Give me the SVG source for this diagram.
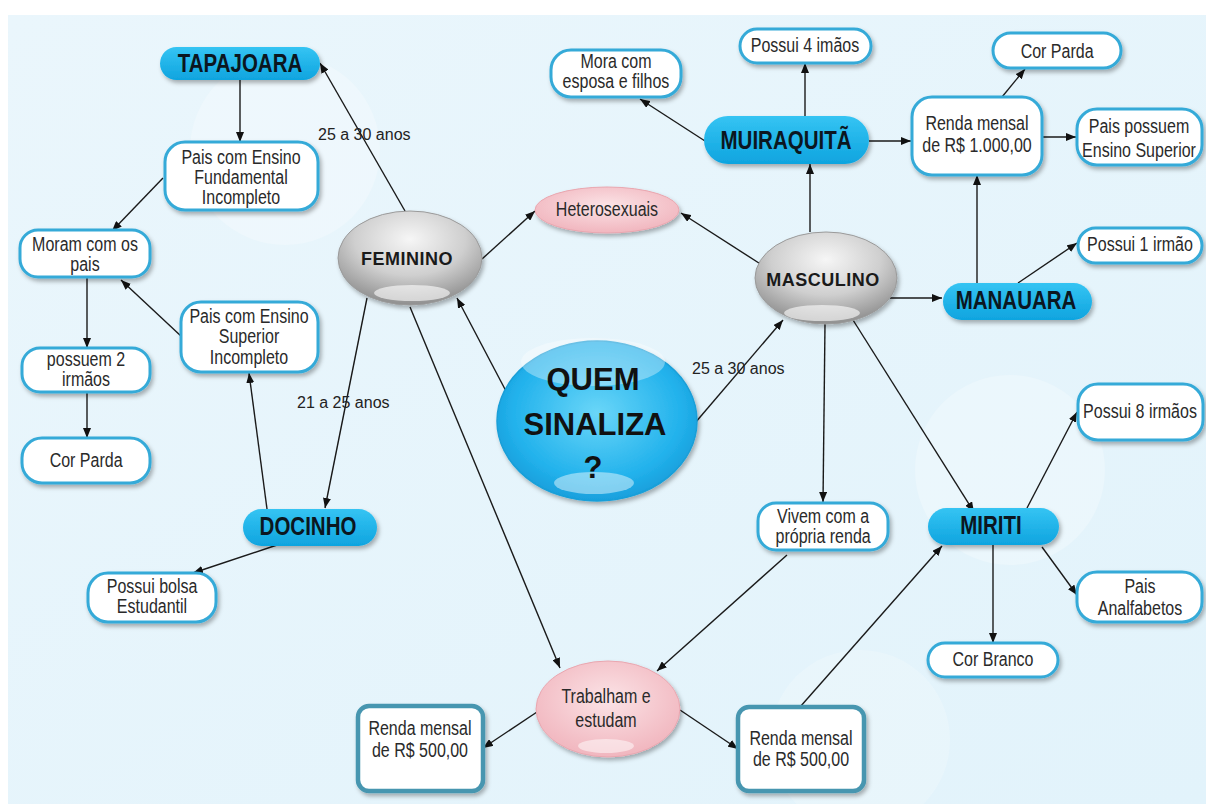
<svg xmlns="http://www.w3.org/2000/svg" width="1206" height="804" viewBox="0 0 1206 804">
<defs>
<linearGradient id="bg" x1="0" y1="0" x2="1" y2="1"><stop offset="0" stop-color="#eaf6fc"/><stop offset="1" stop-color="#e2f3fb"/></linearGradient>
<radialGradient id="grey" cx="50%" cy="30%" r="70%"><stop offset="0" stop-color="#f6f6f6"/><stop offset="0.55" stop-color="#cfcfcf"/><stop offset="1" stop-color="#8f8f8f"/></radialGradient>
<radialGradient id="pink" cx="50%" cy="40%" r="65%"><stop offset="0" stop-color="#fbe3e6"/><stop offset="1" stop-color="#f0b2bb"/></radialGradient>
<radialGradient id="quem" cx="50%" cy="45%" r="60%"><stop offset="0" stop-color="#6ad6f8"/><stop offset="0.7" stop-color="#22b2ec"/><stop offset="1" stop-color="#1598d6"/></radialGradient>
<linearGradient id="pill" x1="0" y1="0" x2="0" y2="1"><stop offset="0" stop-color="#35c4f3"/><stop offset="1" stop-color="#0fa4df"/></linearGradient>
<filter id="sh" x="-20%" y="-20%" width="140%" height="150%"><feDropShadow dx="2" dy="3" stdDeviation="2" flood-color="#000" flood-opacity="0.3"/></filter>
<marker id="ar" markerWidth="10" markerHeight="8" refX="10" refY="4" orient="auto" markerUnits="userSpaceOnUse"><path d="M0,0 L10,4 L0,8 z" fill="#111"/></marker>
<style>
.box{fill:#fff;stroke:#35aad8;stroke-width:3;filter:url(#sh)}
.sq{fill:#fff;stroke:#4796b0;stroke-width:4.5;filter:url(#sh)}
.pill{fill:url(#pill);filter:url(#sh)}
.t{font-family:"Liberation Sans",Arial,sans-serif;font-size:20px;fill:#2a2a2a;text-anchor:middle;transform-box:fill-box;transform-origin:center;transform:scaleX(0.8)}
.b{font-family:"Liberation Sans",Arial,sans-serif;font-size:25px;font-weight:bold;fill:#0b1620;text-anchor:middle;transform-box:fill-box;transform-origin:center;transform:scaleX(0.82)}
.g{font-family:"Liberation Sans",Arial,sans-serif;font-size:18px;font-weight:bold;fill:#1a1a1a;text-anchor:middle;letter-spacing:0.5px}
.q{font-family:"Liberation Sans",Arial,sans-serif;font-size:31px;font-weight:bold;fill:#111;text-anchor:middle}
.l{font-family:"Liberation Sans",Arial,sans-serif;font-size:16px;fill:#222}
.c line{stroke:#1a1a1a;stroke-width:1.4;marker-end:url(#ar)}
.hl{fill:#fff}
</style>
</defs>
<rect width="1206" height="804" fill="#fff"/>
<rect x="8" y="15" width="1198" height="789" fill="url(#bg)"/>
<circle cx="285" cy="150" r="95" fill="#fff" opacity="0.25"/>
<circle cx="1010" cy="470" r="95" fill="#fff" opacity="0.25"/>
<circle cx="860" cy="740" r="90" fill="#fff" opacity="0.2"/>

<g id="connectors" class="c">
<line x1="240" y1="80" x2="240" y2="142"/>
<line x1="163" y1="178" x2="112" y2="231"/>
<line x1="87" y1="278" x2="87" y2="348"/>
<line x1="87" y1="392" x2="87" y2="438"/>
<line x1="182" y1="337" x2="121" y2="280"/>
<line x1="267" y1="509" x2="249" y2="373"/>
<line x1="367" y1="298" x2="325" y2="508"/>
<line x1="405" y1="211" x2="320" y2="63"/>
<line x1="277" y1="545" x2="193" y2="573"/>
<line x1="482" y1="259" x2="535" y2="211"/>
<line x1="762" y1="265" x2="681" y2="213"/>
<line x1="507" y1="393" x2="457" y2="298"/>
<line x1="695" y1="423" x2="783" y2="320"/>
<line x1="410" y1="307" x2="560" y2="668"/>
<line x1="787" y1="555" x2="657" y2="671"/>
<line x1="537" y1="712" x2="483" y2="748"/>
<line x1="680" y1="710" x2="738" y2="749"/>
<line x1="800" y1="707" x2="942" y2="546"/>
<line x1="825" y1="324" x2="823" y2="502"/>
<line x1="853" y1="320" x2="974" y2="512"/>
<line x1="890" y1="298" x2="942" y2="298"/>
<line x1="810" y1="232" x2="810" y2="164"/>
<line x1="705" y1="141" x2="640" y2="99"/>
<line x1="805" y1="116" x2="805" y2="63"/>
<line x1="869" y1="141" x2="911" y2="141"/>
<line x1="1002" y1="97" x2="1025" y2="69"/>
<line x1="1042" y1="137" x2="1076" y2="137"/>
<line x1="977" y1="283" x2="977" y2="175"/>
<line x1="1018" y1="283" x2="1077" y2="243"/>
<line x1="1027" y1="508" x2="1077" y2="412"/>
<line x1="993" y1="545" x2="993" y2="643"/>
<line x1="1042" y1="547" x2="1077" y2="595"/>
</g>

<g id="labels">
<text class="l" x="318" y="140">25 a 30 anos</text>
<text class="l" x="297" y="408">21 a 25 anos</text>
<text class="l" x="692" y="374">25 a 30 anos</text>
</g>

<g id="n-tapajoara"><rect class="pill" x="160" y="47" width="160" height="33" rx="16.5"/><text class="b" x="240" y="72">TAPAJOARA</text></g>
<g id="n-pfund"><rect class="box" x="165" y="142" width="153" height="68" rx="20"/><text class="t" x="241" y="164">Pais com Ensino</text><text class="t" x="241" y="184">Fundamental</text><text class="t" x="241" y="204">Incompleto</text></g>
<g id="n-moram"><rect class="box" x="20" y="230" width="130" height="47" rx="18"/><text class="t" x="85" y="251">Moram com os</text><text class="t" x="85" y="271">pais</text></g>
<g id="n-possuem2"><rect class="box" x="22" y="348" width="128" height="44" rx="18"/><text class="t" x="86" y="366">possuem 2</text><text class="t" x="86" y="386">irmãos</text></g>
<g id="n-corparda-l"><rect class="box" x="22" y="438" width="128" height="45" rx="20"/><text class="t" x="86" y="467">Cor Parda</text></g>
<g id="n-psup"><rect class="box" x="181" y="302" width="137" height="70" rx="20"/><text class="t" x="249" y="323">Pais com Ensino</text><text class="t" x="249" y="343">Superior</text><text class="t" x="249" y="364">Incompleto</text></g>
<g id="n-docinho"><rect class="pill" x="243" y="509" width="134" height="37" rx="18.5"/><text class="b" x="308" y="535">DOCINHO</text></g>
<g id="n-bolsa"><rect class="box" x="88" y="573" width="128" height="49" rx="20"/><text class="t" x="152" y="593">Possui bolsa</text><text class="t" x="152" y="613">Estudantil</text></g>

<g id="n-feminino"><ellipse cx="410" cy="258" rx="72" ry="47" fill="url(#grey)" stroke="#9a9a9a" stroke-width="1" filter="url(#sh)"/><ellipse class="hl" cx="412" cy="293" rx="38" ry="8" opacity="0.6"/><text class="g" x="407" y="265">FEMININO</text></g>
<g id="n-hetero"><ellipse cx="607" cy="210" rx="72" ry="23" fill="url(#pink)" stroke="#e9a6af" stroke-width="1" filter="url(#sh)"/><text class="t" x="607" y="216">Heterosexuais</text></g>
<g id="n-quem"><ellipse cx="597" cy="421" rx="100" ry="80" fill="url(#quem)" stroke="#1a9fd8" stroke-width="1.5" filter="url(#sh)"/><ellipse class="hl" cx="593" cy="362" rx="72" ry="24" opacity="0.35"/><ellipse class="hl" cx="594" cy="483" rx="40" ry="11" opacity="0.45"/><text class="q" x="593" y="390">QUEM</text><text class="q" x="595" y="435">SINALIZA</text><text class="q" x="593" y="478">?</text></g>
<g id="n-masculino"><ellipse cx="826" cy="278" rx="71" ry="46" fill="url(#grey)" stroke="#9a9a9a" stroke-width="1" filter="url(#sh)"/><ellipse class="hl" cx="822" cy="313" rx="38" ry="8" opacity="0.6"/><text class="g" x="823" y="286">MASCULINO</text></g>
<g id="n-trabalham"><ellipse cx="608" cy="709" rx="72" ry="48" fill="url(#pink)" stroke="#e9a6af" stroke-width="1" filter="url(#sh)"/><ellipse class="hl" cx="606" cy="746" rx="28" ry="7" opacity="0.5"/><text class="t" x="606" y="703">Trabalham e</text><text class="t" x="606" y="727">estudam</text></g>

<g id="n-mora"><rect class="box" x="551" y="50" width="130" height="47" rx="20"/><text class="t" x="616" y="68">Mora com</text><text class="t" x="616" y="88">esposa e filhos</text></g>
<g id="n-possui4"><rect class="box" x="740" y="29" width="131" height="34" rx="17"/><text class="t" x="805" y="52">Possui 4 imãos</text></g>
<g id="n-muiraquita"><rect class="pill" x="704" y="116" width="165" height="48" rx="24"/><text class="b" x="786" y="149">MUIRAQUITÃ</text></g>
<g id="n-renda1000"><rect class="box" x="912" y="97" width="130" height="78" rx="20"/><text class="t" x="977" y="130">Renda mensal</text><text class="t" x="977" y="152">de R$ 1.000,00</text></g>
<g id="n-corparda-r"><rect class="box" x="993" y="33" width="128" height="35" rx="17.5"/><text class="t" x="1057" y="58">Cor Parda</text></g>
<g id="n-paispossuem"><rect class="box" x="1077" y="109" width="125" height="56" rx="20"/><text class="t" x="1139" y="133">Pais possuem</text><text class="t" x="1139" y="157">Ensino Superior</text></g>
<g id="n-possui1"><rect class="box" x="1078" y="228" width="124" height="35" rx="17.5"/><text class="t" x="1140" y="251">Possui 1 irmão</text></g>
<g id="n-manauara"><rect class="pill" x="943" y="283" width="149" height="37" rx="18.5"/><text class="b" x="1016" y="309">MANAUARA</text></g>
<g id="n-possui8"><rect class="box" x="1078" y="384" width="125" height="56" rx="20"/><text class="t" x="1140" y="418">Possui 8 irmãos</text></g>
<g id="n-vivem"><rect class="box" x="758" y="503" width="130" height="47" rx="18"/><text class="t" x="823" y="523">Vivem com a</text><text class="t" x="823" y="543">própria renda</text></g>
<g id="n-miriti"><rect class="pill" x="928" y="508" width="131" height="37" rx="18.5"/><text class="b" x="991" y="534">MIRITI</text></g>
<g id="n-analf"><rect class="box" x="1077" y="572" width="125" height="50" rx="20"/><text class="t" x="1140" y="593">Pais</text><text class="t" x="1140" y="615">Analfabetos</text></g>
<g id="n-corbranco"><rect class="box" x="928" y="643" width="130" height="34" rx="17"/><text class="t" x="993" y="666">Cor Branco</text></g>
<g id="n-renda-l"><rect class="sq" x="358" y="706" width="125" height="85" rx="11"/><text class="t" x="420" y="735">Renda mensal</text><text class="t" x="420" y="757">de R$ 500,00</text></g>
<g id="n-renda-r"><rect class="sq" x="738" y="707" width="126" height="84" rx="11"/><text class="t" x="801" y="745">Renda mensal</text><text class="t" x="801" y="766">de R$ 500,00</text></g>
</svg>
